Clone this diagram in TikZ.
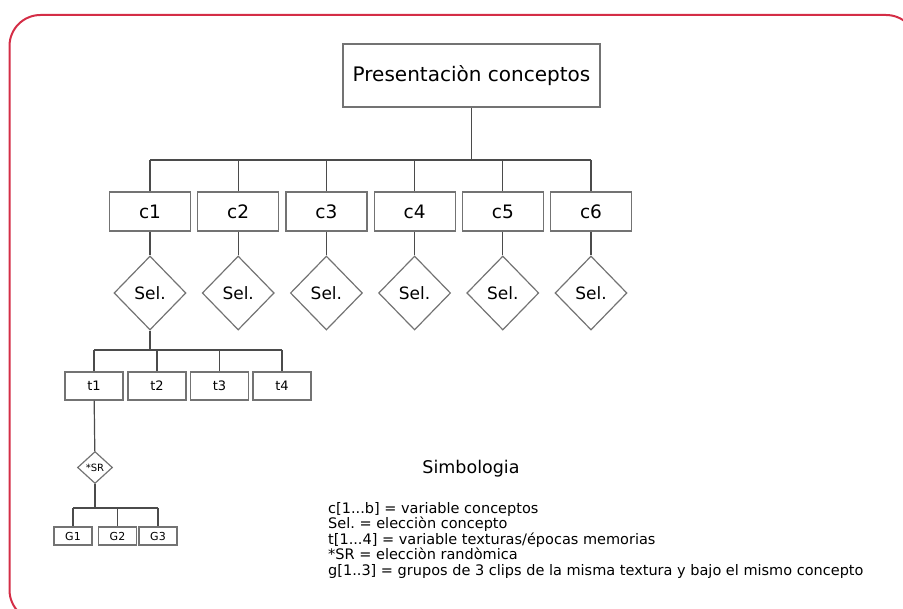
\documentclass[tikz,border=0pt]{standalone}
\usepackage{fontspec}
\setmainfont{DejaVu Sans}
\usepackage{xcolor}
\usetikzlibrary{shapes,arrows,positioning}
\frenchspacing

\definecolor{framered}{RGB}{212,45,70}
\definecolor{boxgray}{RGB}{115,115,115}
\definecolor{linegray}{RGB}{75,75,75}

\tikzset{
    concbox/.style={
        draw=boxgray,
        line width=1.2pt,
        minimum width=81pt,
        minimum height=39pt,
        inner sep=0pt,
        font=\fontsize{18.5}{20}\selectfont
    },
    selbox/.style={
        diamond,
        draw=boxgray,
        line width=1.2pt,
        minimum width=72pt,
        minimum height=74pt,
        inner sep=0pt,
        font=\fontsize{17}{18}\selectfont
    },
    texbox/.style={
        draw=boxgray,
        line width=1.2pt,
        minimum width=58pt,
        minimum height=28pt,
        inner sep=0pt,
        font=\fontsize{13}{14}\selectfont
    },
    srbox/.style={
        diamond,
        draw=boxgray,
        line width=1.2pt,
        minimum width=35pt,
        minimum height=32pt,
        inner sep=0pt,
        font=\fontsize{10}{10}\selectfont
    },
    grpbox/.style={
        draw=boxgray,
        line width=1.2pt,
        minimum width=38pt,
        minimum height=18pt,
        inner sep=0pt,
        font=\fontsize{11}{11}\selectfont
    },
    tieline/.style={
        draw=linegray,
        line width=1.2pt
    }
}

\begin{document}
\begin{tikzpicture}[x=1pt,y=-1pt]
                \useasboundingbox (0,0) rectangle (903,609);
                \clip (0,0) rectangle (903,609);

                % red frame, cut by the page edge on the right and bottom
                \draw[
                    framered,
                    line width=2pt,
                    rounded corners=31pt
                    ] (9.5,15) rectangle (917,621);

                % top box
                \node[
                    draw=boxgray,
                    line width=1.2pt,
                    minimum width=257pt,
                    minimum height=63pt,
                    font=\fontsize{20}{24}\selectfont
                    ] (pres) at (471.5,75.5) {Presentaciòn conceptos};

                % concepts
                \node[concbox] (c1) at (150,211.5) {c1};
                \node[concbox] (c2) at (238.2,211.5) {c2};
                \node[concbox] (c3) at (326.4,211.5) {c3};
                \node[concbox] (c4) at (414.6,211.5) {c4};
                \node[concbox] (c5) at (502.8,211.5) {c5};
                \node[concbox] (c6) at (591,211.5) {c6};

                % selection
                \node[selbox] (sel1) at (150,293) {Sel.};
                \node[selbox] (sel2) at (238.2,293) {Sel.};
                \node[selbox] (sel3) at (326.4,293) {Sel.};
                \node[selbox] (sel4) at (414.6,293) {Sel.};
                \node[selbox] (sel5) at (502.8,293) {Sel.};
                \node[selbox] (sel6) at (591,293) {Sel.};

                % textures
                \node[texbox] (t1) at (94,386) {t1};
                \node[texbox] (t2) at (157,386) {t2};
                \node[texbox] (t3) at (219.5,386) {t3};
                \node[texbox] (t4) at (282,386) {t4};

                \node[srbox] (sr) at (95,467.5) {*SR};

                \node[grpbox] (g1) at (73,536) {G1};
                \node[grpbox] (g2) at (117.5,536) {G2};
                \node[grpbox] (g3) at (158,536) {G3};

                \coordinate (cbus) at (471.5,160);
                \coordinate (tbus) at (150,350);
                \coordinate (gbus) at (95,508);

                % tree lines
                \draw[tieline] (pres) -- (cbus);
                \draw[tieline] (c1 |- cbus) -- (c6 |- cbus);
                \draw[tieline] (c1 |- cbus) -- (c1);
                \draw[tieline] (c2 |- cbus) -- (c2);
                \draw[tieline] (c3 |- cbus) -- (c3);
                \draw[tieline] (c4 |- cbus) -- (c4);
                \draw[tieline] (c5 |- cbus) -- (c5);
                \draw[tieline] (c6 |- cbus) -- (c6);

                \draw[tieline] (c1) -- (sel1);
                \draw[tieline] (c2) -- (sel2);
                \draw[tieline] (c3) -- (sel3);
                \draw[tieline] (c4) -- (sel4);
                \draw[tieline] (c5) -- (sel5);
                \draw[tieline] (c6) -- (sel6);

                \draw[tieline] (sel1) -- (tbus);
                \draw[tieline] (t1 |- tbus) -- (t4 |- tbus);
                \draw[tieline] (t1 |- tbus) -- (t1);
                \draw[tieline] (t2 |- tbus) -- (t2);
                \draw[tieline] (t3 |- tbus) -- (t3);
                \draw[tieline] (t4 |- tbus) -- (t4);

                \draw[tieline] (t1) -- (sr);
                \draw[tieline] (sr) -- (gbus);
                \draw[tieline] (g1 |- gbus) -- (g3 |- gbus);
                \draw[tieline] (g1 |- gbus) -- (g1);
                \draw[tieline] (g2 |- gbus) -- (g2);
                \draw[tieline] (g3 |- gbus) -- (g3);

                % legend
                \node[
                    font=\fontsize{17.5}{20}\selectfont
                    ] (simb) at (471,469) {Simbologia};

                \node[
                    anchor=north west,
                    align=left,
                    inner sep=0pt,
                    font=\fontsize{14.5}{15.5}\selectfont
                    ] (leyenda) at (328,502) {c[1...b] = variable conceptos\\
                    Sel. = elecciòn concepto\\
                    t[1...4] = variable texturas/épocas memorias\\
                    *SR = elecciòn randòmica\\
                    g[1..3] = grupos de 3 clips de la misma textura y bajo el mismo concepto};

            \end{tikzpicture}
\end{document}
